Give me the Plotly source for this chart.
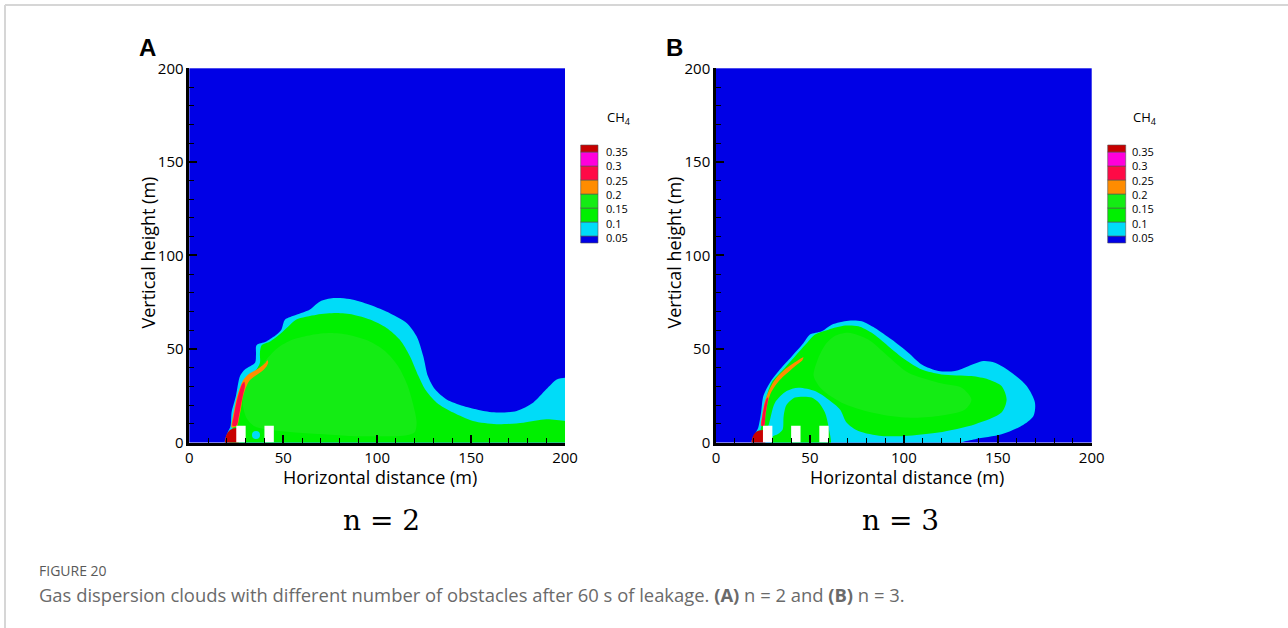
import plotly.graph_objects as go

W, H = 1288, 628

# ---------------- data ----------------
levels = [0.05, 0.1, 0.15, 0.2, 0.25, 0.3, 0.35]
level_labels = ["0.05", "0.1", "0.15", "0.2", "0.25", "0.3", "0.35"]
# colours of the bands, lowest (<0.05) to highest (>0.35)
band_colors = ["#0000E6", "#00DCF8", "#00F000", "#14EC14", "#FF8C00", "#FF0A46", "#FF00DC", "#C80000"]

x_ticks = [0, 50, 100, 150, 200]
y_ticks = [0, 50, 100, 150, 200]

# ---- Panel A (n = 2) contour outlines (x, y in m)
A_c005_x = [19.0, 19.2, 20.5, 22.0, 22.5, 24.8, 27.0, 29.6, 35.0, 35.5, 35.8, 41.0, 46.5, 49.0, 51.0, 57.0, 64.0, 69.6, 76.7, 85.5, 96.0, 107.0, 115.7, 121.0, 124.6, 127.0, 130.8, 137.0, 145.9, 156.5, 165.4, 174.3, 183.0, 190.0, 195.6, 200.0, 204.0, 204.0, 100.0]
A_c005_y = [-4.0, 2.0, 5.5, 9.0, 16.0, 24.8, 35.5, 39.0, 42.6, 47.0, 52.0, 54.0, 57.7, 60.3, 65.7, 68.3, 71.0, 75.4, 77.2, 76.7, 73.6, 69.0, 63.9, 56.8, 46.0, 35.5, 28.4, 23.0, 19.5, 16.9, 16.0, 16.9, 21.3, 28.4, 33.7, 34.6, 34.6, -4.0, -4.0]

A_c010_x = [21.5, 22.3, 23.5, 24.3, 26.0, 28.7, 31.4, 35.0, 37.6, 37.6, 38.5, 43.0, 48.0, 52.7, 57.0, 67.8, 78.4, 87.3, 96.2, 105.0, 112.0, 117.5, 122.0, 125.5, 131.7, 140.5, 151.0, 163.6, 177.8, 190.0, 200.0, 204.0, 204.0, 100.0]
A_c010_y = [-4.0, 4.0, 10.0, 16.0, 24.8, 32.0, 35.5, 38.0, 42.6, 48.0, 52.0, 54.0, 57.7, 62.0, 65.7, 68.3, 69.2, 68.3, 65.7, 61.2, 55.0, 46.0, 35.5, 28.4, 21.3, 16.0, 11.5, 9.8, 10.6, 12.4, 11.5, 11.5, -4.0, -4.0]

A_c015_x = [30.0, 33.0, 38.0, 42.0, 47.0, 55.0, 65.0, 75.0, 85.0, 95.0, 104.0, 111.0, 116.0, 119.0, 121.0, 120.0, 115.0, 100.0, 85.0, 70.0, 55.0, 44.0, 35.0, 30.5, 28.5, 28.8]
A_c015_y = [30.0, 35.0, 40.5, 45.5, 50.5, 55.0, 57.5, 58.5, 57.5, 54.5, 49.0, 41.0, 31.0, 21.0, 11.0, 5.5, 3.8, 3.3, 3.5, 4.5, 5.5, 6.5, 8.5, 13.0, 20.0, 26.0]

A_c020_x = [22.5, 23.0, 24.0, 25.0, 26.5, 28.5, 31.5, 35.0, 38.0, 40.5, 41.6, 42.0, 41.0, 38.5, 35.0, 32.0, 30.0, 28.5, 27.5, 26.5, 25.5]
A_c020_y = [8.0, 13.0, 18.0, 23.0, 28.0, 33.0, 36.5, 38.5, 40.5, 42.5, 44.0, 42.8, 40.5, 38.0, 35.5, 33.0, 29.0, 24.0, 18.0, 13.0, 9.0]

A_c025_x = [23.0, 23.7, 24.8, 26.3, 28.0, 29.3, 29.6, 28.5, 27.3, 26.2, 25.2]
A_c025_y = [9.0, 14.0, 20.0, 26.0, 31.0, 32.5, 30.0, 25.0, 19.0, 13.0, 9.0]

A_c035_x = [19.0, 19.2, 20.0, 21.5, 23.5, 25.5, 25.5]
A_c035_y = [-4.0, 2.0, 4.5, 6.5, 7.5, 7.5, -4.0]

A_spot_x = [35.5]          # small cyan spot between the obstacles
A_spot_y = [4.0]

A_obs_x0 = [25.0, 40.0]    # obstacles (white)
A_obs_x1 = [30.0, 45.0]
A_obs_h = [9.0, 9.0]

# ---- Panel B (n = 3)
B_c005_x = [19.0, 19.3, 21.0, 22.5, 24.0, 25.2, 28.7, 34.0, 40.3, 46.5, 50.0, 56.3, 61.6, 70.5, 77.6, 84.6, 93.5, 102.4, 109.5, 118.4, 127.2, 134.3, 142.3, 148.5, 157.4, 165.4, 169.8, 169.0, 162.7, 152.0, 138.0, 130.8, 127.0]
B_c005_y = [-4.0, 2.0, 5.0, 8.0, 16.0, 24.8, 32.0, 39.0, 46.0, 53.0, 57.7, 59.5, 63.0, 65.1, 64.8, 61.2, 55.0, 48.0, 41.7, 38.2, 38.2, 40.8, 43.5, 42.6, 37.3, 30.2, 21.3, 14.2, 8.9, 4.4, 1.8, 0.0, -4.0]

B_c010_x = [23.8, 24.5, 25.2, 27.0, 29.6, 35.8, 42.0, 48.3, 52.7, 59.8, 68.7, 75.8, 82.9, 91.7, 100.6, 109.5, 120.0, 136.0, 145.0, 152.0, 154.7, 152.0, 138.0, 118.4, 100.6, 88.2, 75.8, 69.6, 66.0, 59.8, 52.7, 43.8, 37.6, 31.4, 27.9, 26.5]
B_c010_y = [6.0, 10.0, 16.0, 24.8, 32.0, 39.0, 46.0, 53.0, 57.7, 60.3, 62.5, 62.1, 58.6, 51.5, 44.4, 39.0, 36.4, 35.5, 33.7, 30.2, 23.0, 16.0, 9.8, 5.3, 3.5, 3.5, 6.2, 10.6, 17.7, 23.0, 27.5, 29.3, 27.5, 21.3, 8.9, 6.0]

B_low_x = [30.0, 30.0, 33.0, 35.5, 36.0, 37.5, 42.0, 47.0, 51.0, 55.0, 58.0, 59.8, 60.5]
B_low_y = [-4.0, 3.0, 4.5, 7.0, 14.0, 20.0, 24.0, 24.5, 24.0, 21.0, 16.0, 8.9, -4.0]

B_c015_x = [52.0, 54.0, 58.0, 63.0, 70.5, 81.0, 91.7, 102.4, 118.4, 130.8, 136.0, 132.6, 118.4, 100.6, 82.9, 66.9, 56.3]
B_c015_y = [35.5, 44.0, 52.0, 56.8, 58.6, 55.0, 46.0, 37.3, 32.0, 29.3, 23.0, 17.7, 14.2, 13.3, 16.0, 21.3, 28.4]

B_c020_x = [24.0, 24.5, 25.5, 27.0, 29.5, 32.5, 36.0, 40.0, 43.5, 46.5, 46.0, 43.0, 39.5, 35.5, 32.0, 29.0, 27.3, 26.3, 25.7]
B_c020_y = [9.0, 14.0, 20.0, 25.0, 30.5, 35.0, 38.5, 41.5, 43.8, 45.5, 44.0, 41.5, 38.5, 35.0, 31.0, 26.0, 20.0, 14.0, 9.0]

B_c025_x = [24.2, 24.7, 25.6, 27.0, 27.8, 27.2, 26.3, 25.6]
B_c025_y = [9.0, 14.0, 19.0, 23.5, 24.0, 20.0, 15.0, 9.0]

B_c035_x = [19.0, 19.2, 20.0, 21.5, 23.5, 25.5, 25.5]
B_c035_y = [-4.0, 2.0, 4.0, 5.7, 6.5, 6.5, -4.0]

B_obs_x0 = [25.0, 40.0, 55.0]
B_obs_x1 = [30.0, 45.0, 60.0]
B_obs_h = [9.0, 9.0, 9.0]

# ---------------- helpers ----------------
def px(x):
    return x / W


def py(y):
    return 1 - y / H


fig = go.Figure()


def region(xs, ys, color, xa, ya, smooth=True):
    fig.add_trace(go.Scatter(
        x=xs + xs[:1], y=ys + ys[:1], xaxis=xa, yaxis=ya,
        mode="lines", fill="toself", fillcolor=color,
        line=dict(width=0, color=color, shape="spline" if smooth else "linear", smoothing=0.8),
        hoverinfo="skip", showlegend=False))


def obstacles(x0s, x1s, hs, xa, ya):
    for a, b, h in zip(x0s, x1s, hs):
        fig.add_trace(go.Scatter(
            x=[a, b, b, a, a], y=[0, 0, h, h, 0], xaxis=xa, yaxis=ya,
            mode="lines", fill="toself", fillcolor="white",
            line=dict(width=0, color="white"), hoverinfo="skip", showlegend=False))


# Panel A
region(A_c005_x, A_c005_y, band_colors[1], "x", "y")
region(A_c010_x, A_c010_y, band_colors[2], "x", "y")
region(A_c015_x, A_c015_y, band_colors[3], "x", "y")
region(A_c020_x, A_c020_y, band_colors[4], "x", "y")
region(A_c025_x, A_c025_y, band_colors[5], "x", "y")
region(A_c035_x, A_c035_y, band_colors[7], "x", "y")
obstacles(A_obs_x0, A_obs_x1, A_obs_h, "x", "y")
fig.add_trace(go.Scatter(x=A_spot_x, y=A_spot_y, mode="markers", xaxis="x", yaxis="y",
                         marker=dict(size=8, color=band_colors[1]), hoverinfo="skip", showlegend=False))

# Panel B
region(B_c005_x, B_c005_y, band_colors[1], "x2", "y2")
region(B_c010_x, B_c010_y, band_colors[2], "x2", "y2")
region(B_low_x, B_low_y, band_colors[2], "x2", "y2")
region(B_c015_x, B_c015_y, band_colors[3], "x2", "y2")
region(B_c020_x, B_c020_y, band_colors[4], "x2", "y2")
region(B_c025_x, B_c025_y, band_colors[5], "x2", "y2")
region(B_c035_x, B_c035_y, band_colors[7], "x2", "y2")
obstacles(B_obs_x0, B_obs_x1, B_obs_h, "x2", "y2")

# ---------------- axes ----------------
tickfont = dict(family="Open Sans", size=15, color="black")


def axis_cfg(domain, ticks_vals, anchor):
    return dict(domain=domain, range=[0, 200], tickvals=ticks_vals, anchor=anchor,
                ticks="inside", ticklen=8, tickwidth=1.5, tickcolor="black",
                minor=dict(dtick=10, ticks="inside", ticklen=5, tickwidth=1.2, tickcolor="black"),
                showline=True, linewidth=2.5, linecolor="black", showgrid=False, zeroline=False,
                tickfont=tickfont, fixedrange=True, automargin=False)


ydom = [py(442.5), py(68.3)]
fig.update_layout(
    width=W, height=H, margin=dict(l=0, r=0, t=0, b=0, pad=0, autoexpand=False),
    paper_bgcolor="white", plot_bgcolor=band_colors[0],
    xaxis=axis_cfg([px(189.3), px(565.0)], x_ticks, "y"),
    yaxis=axis_cfg(ydom, y_ticks, "x"),
    xaxis2=axis_cfg([px(716.0), px(1091.7)], x_ticks, "y2"),
    yaxis2=axis_cfg(ydom, y_ticks, "x2"),
    showlegend=False,
)

annotations = []
shapes = []


def ann(x, y, text, size, family="Open Sans", color="black", xanchor="center", yanchor="middle",
        angle=0, align="center"):
    annotations.append(dict(x=px(x), y=py(y), xref="paper", yref="paper", text=text, showarrow=False,
                            font=dict(family=family, size=size, color=color), align=align,
                            xanchor=xanchor, yanchor=yanchor, textangle=angle))


# panel letters
ann(147.5, 48, "<b>A</b>", 24, family="Liberation Sans")
ann(674.0, 48, "<b>B</b>", 24, family="Liberation Sans")

# axis titles
for cx in (379.5, 906.5):
    ann(cx, 477, "Horizontal distance (m)", 18)
for cy_x in (147.5, 673.5):
    ann(cy_x, 253, "Vertical height (m)", 18, angle=-90)

# n labels
ann(382, 520, "n = 2", 28, family="DejaVu Serif")
ann(900, 520, "n = 3", 28, family="DejaVu Serif")

# colour legends (one per panel)
box_edges_px = [236, 222, 208, 194, 180, 166, 152]  # y pixel of each level boundary
legend_text = "<br>".join(reversed(level_labels))
for bx0, bx1, lx in ((580.7, 598.0, 604.0), (1107.7, 1125.7, 1129.7)):
    tops = [243] + box_edges_px
    bots = box_edges_px + [145]
    for i in range(len(band_colors)):
        shapes.append(dict(type="rect", xref="paper", yref="paper",
                           x0=px(bx0), x1=px(bx1), y0=py(tops[i]), y1=py(bots[i]),
                           fillcolor=band_colors[i], line=dict(width=0.6, color="#555555")))
    ann(lx, (box_edges_px[0] + box_edges_px[-1]) / 2, legend_text, 11, xanchor="left", align="left")
    ann(lx + 1, 118, "CH<sub>4</sub>", 13, xanchor="left")

# caption
ann(37, 570, "FIGURE 20", 14, color="#595959", xanchor="left")
ann(37, 594, "Gas dispersion clouds with different number of obstacles after 60 s of leakage. "
             "<b>(A)</b> n = 2 and <b>(B)</b> n = 3.", 18.4, color="#6a6a6a", xanchor="left")

# page frame
shapes.append(dict(type="line", xref="paper", yref="paper", x0=px(5), x1=px(W), y0=py(5), y1=py(5),
                   line=dict(color="#d6d6d6", width=2)))
shapes.append(dict(type="line", xref="paper", yref="paper", x0=px(5), x1=px(5), y0=py(5), y1=py(H),
                   line=dict(color="#d6d6d6", width=2)))

fig.update_layout(annotations=annotations, shapes=shapes)

fig.write_html("out.html")
